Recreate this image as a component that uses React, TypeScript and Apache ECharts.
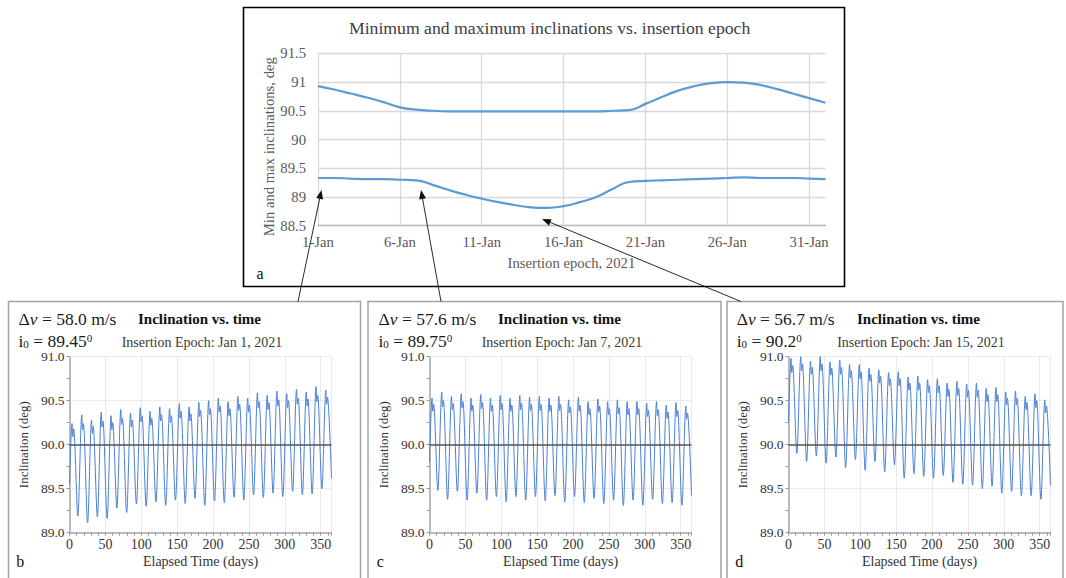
import React, { useEffect, useRef } from "react";
import * as echarts from "echarts";

const SERIF = '"Liberation Serif", "Times New Roman", serif';

// ---------- Panel a: min / max inclination vs insertion epoch ----------
const epochLabels = [
  "1-Jan", "2-Jan", "3-Jan", "4-Jan", "5-Jan", "6-Jan", "7-Jan", "8-Jan",
  "9-Jan", "10-Jan", "11-Jan", "12-Jan", "13-Jan", "14-Jan", "15-Jan", "16-Jan",
  "17-Jan", "18-Jan", "19-Jan", "20-Jan", "21-Jan", "22-Jan", "23-Jan", "24-Jan",
  "25-Jan", "26-Jan", "27-Jan", "28-Jan", "29-Jan", "30-Jan", "31-Jan", "1-Feb",
];
const maxIncl = [
  90.93, 90.87, 90.8, 90.73, 90.65, 90.56, 90.52, 90.5, 90.49, 90.49, 90.49,
  90.49, 90.49, 90.49, 90.49, 90.49, 90.49, 90.49, 90.5, 90.51, 90.62, 90.74,
  90.85, 90.93, 90.98, 91.0, 90.99, 90.95, 90.88, 90.8, 90.72, 90.64,
];
const minIncl = [
  89.33, 89.33, 89.32, 89.31, 89.31, 89.3, 89.29, 89.21, 89.12, 89.04, 88.97,
  88.91, 88.86, 88.82, 88.81, 88.84, 88.91, 89.0, 89.14, 89.26, 89.28, 89.29,
  89.3, 89.31, 89.32, 89.33, 89.34, 89.33, 89.33, 89.33, 89.32, 89.31,
];
const inclTicksTop = [88.5, 89, 89.5, 90, 90.5, 91, 91.5];

// ---------- Panels b, c, d: inclination vs elapsed time ----------
const elapsedTicks = [0, 50, 100, 150, 200, 250, 300, 350];
const inclTicksBottom = [89.0, 89.5, 90.0, 90.5, 91.0];

// panel b (Jan 1)
const startB = 89.55;
const endB = 89.62;
const peaksB = [90.24, 90.34, 90.28, 90.37, 90.33, 90.4, 90.36, 90.42, 90.38, 90.43, 90.41, 90.47, 90.43, 90.48, 90.5, 90.53, 90.49, 90.55, 90.53, 90.59, 90.56, 90.61, 90.58, 90.63, 90.6, 90.66, 90.62];
const notchB = [90.09, 90.17, 90.13, 90.2, 90.17, 90.23, 90.2, 90.26, 90.22, 90.27, 90.25, 90.3, 90.27, 90.32, 90.34, 90.37, 90.33, 90.39, 90.37, 90.42, 90.4, 90.44, 90.42, 90.46, 90.44, 90.49, 90.46];
const peak2B = [90.18, 90.24, 90.21, 90.27, 90.25, 90.3, 90.28, 90.33, 90.3, 90.34, 90.33, 90.38, 90.35, 90.39, 90.41, 90.44, 90.41, 90.46, 90.45, 90.49, 90.48, 90.51, 90.5, 90.53, 90.52, 90.56, 90.54];
const troughsB = [89.19, 89.11, 89.18, 89.16, 89.28, 89.23, 89.33, 89.3, 89.35, 89.31, 89.37, 89.33, 89.39, 89.31, 89.36, 89.34, 89.4, 89.37, 89.43, 89.4, 89.45, 89.41, 89.47, 89.43, 89.44, 89.5];

// panel c (Jan 7)
const startC = 89.8;
const endC = 89.42;
const peaksC = [90.53, 90.6, 90.55, 90.58, 90.53, 90.57, 90.53, 90.56, 90.53, 90.56, 90.54, 90.55, 90.53, 90.55, 90.51, 90.54, 90.49, 90.52, 90.49, 90.51, 90.49, 90.49, 90.47, 90.49, 90.45, 90.48, 90.44];
const notchC = [90.38, 90.43, 90.4, 90.42, 90.38, 90.41, 90.38, 90.4, 90.38, 90.4, 90.39, 90.39, 90.38, 90.39, 90.36, 90.38, 90.34, 90.37, 90.34, 90.35, 90.34, 90.34, 90.32, 90.33, 90.3, 90.32, 90.29];
const peak2C = [90.46, 90.5, 90.47, 90.49, 90.45, 90.48, 90.45, 90.47, 90.45, 90.47, 90.46, 90.46, 90.45, 90.46, 90.43, 90.45, 90.41, 90.44, 90.41, 90.42, 90.41, 90.41, 90.39, 90.4, 90.37, 90.39, 90.36];
const troughsC = [89.48, 89.38, 89.47, 89.37, 89.45, 89.37, 89.41, 89.35, 89.41, 89.37, 89.41, 89.36, 89.42, 89.35, 89.41, 89.34, 89.39, 89.33, 89.37, 89.31, 89.37, 89.31, 89.38, 89.33, 89.34, 89.31];

// panel d (Jan 15)
const startD = 90.26;
const endD = 89.54;
const peaksD = [90.98, 91.0, 90.95, 91.0, 90.94, 90.96, 90.91, 90.91, 90.87, 90.85, 90.82, 90.83, 90.77, 90.78, 90.74, 90.75, 90.7, 90.72, 90.69, 90.7, 90.64, 90.65, 90.6, 90.61, 90.55, 90.58, 90.51];
const notchD = [90.82, 90.84, 90.8, 90.84, 90.79, 90.8, 90.76, 90.75, 90.72, 90.7, 90.67, 90.67, 90.62, 90.62, 90.59, 90.59, 90.55, 90.56, 90.54, 90.54, 90.49, 90.49, 90.45, 90.45, 90.4, 90.42, 90.36];
const peak2D = [90.9, 90.92, 90.88, 90.92, 90.87, 90.88, 90.84, 90.83, 90.8, 90.78, 90.75, 90.75, 90.7, 90.7, 90.67, 90.67, 90.63, 90.64, 90.62, 90.62, 90.57, 90.57, 90.53, 90.53, 90.48, 90.5, 90.44];
const troughsD = [89.9, 89.81, 89.87, 89.79, 89.86, 89.74, 89.83, 89.71, 89.81, 89.69, 89.77, 89.62, 89.67, 89.64, 89.62, 89.65, 89.57, 89.55, 89.54, 89.5, 89.53, 89.45, 89.47, 89.42, 89.42, 89.38];

// cycle timing (half lunar month)
const CYCLE_DAYS = 13.6;
const FIRST_PEAK_DAY = 3.5;
const NOTCH_OFFSET = 1.1;
const PEAK2_OFFSET = 2.3;
const TROUGH_OFFSET = 8.1;
const LAST_DAY = 365;

function buildTrack(start: number, peaks: number[], notches: number[], peaks2: number[], troughs: number[], end: number) {
  const pts: number[][] = [[0, start]];
  peaks.forEach((p, k) => {
    const t = FIRST_PEAK_DAY + k * CYCLE_DAYS;
    pts.push([t, p]);
    pts.push([t + NOTCH_OFFSET, notches[k]]);
    pts.push([t + PEAK2_OFFSET, peaks2[k]]);
    if (k < troughs.length) pts.push([t + TROUGH_OFFSET, troughs[k]]);
  });
  pts.push([LAST_DAY, end]);
  return pts;
}

const panels = [
  { letter: "b", dv: "58.0", i0: "89.45", epoch: "Jan 1, 2021", gridLeft: 69.5, textLeft: 18.5, box: [8.5, 352], track: buildTrack(startB, peaksB, notchB, peak2B, troughsB, endB) },
  { letter: "c", dv: "57.6", i0: "89.75", epoch: "Jan 7, 2021", gridLeft: 429.5, textLeft: 378.5, box: [368, 353], track: buildTrack(startC, peaksC, notchC, peak2C, troughsC, endC) },
  { letter: "d", dv: "56.7", i0: "90.2", epoch: "Jan 15, 2021", gridLeft: 788.5, textLeft: 736.7, box: [727, 336], track: buildTrack(startD, peaksD, notchD, peak2D, troughsD, endD) },
];

const PLOT_W = 262;
const PLOT_TOP = 356.7;
const PLOT_H = 176;

function arrow(fx: number, fy: number, tx: number, ty: number) {
  const dx = tx - fx;
  const dy = ty - fy;
  const len = Math.sqrt(dx * dx + dy * dy);
  const ux = dx / len;
  const uy = dy / len;
  const hl = 9;
  const hw = 3.5;
  const bx = tx - ux * hl;
  const by = ty - uy * hl;
  return [
    { type: "line", z: 100, shape: { x1: fx, y1: fy, x2: bx, y2: by }, style: { stroke: "#111", lineWidth: 0.9 } },
    {
      type: "polygon",
      z: 100,
      shape: { points: [[tx, ty], [bx - uy * hw, by + ux * hw], [bx + uy * hw, by - ux * hw]] },
      style: { fill: "#111" },
    },
  ];
}

function txt(x: number, y: number, text: string, size: number, extra: any = {}, rotation = 0) {
  return {
    type: "text",
    x,
    y,
    rotation,
    z: 50,
    style: {
      text,
      fontFamily: SERIF,
      fontSize: size,
      fill: "#222",
      align: "left",
      verticalAlign: "middle",
      ...extra,
    },
  };
}

function buildOption() {
  const grids: any[] = [{ left: 318, top: 53.3, width: 507.5, height: 172.4 }];
  const xAxes: any[] = [
    {
      type: "category",
      gridIndex: 0,
      data: epochLabels,
      boundaryGap: false,
      axisLine: { show: true, lineStyle: { color: "#bfbfbf", width: 1.3 } },
      axisTick: { show: false },
      axisLabel: { interval: 4, fontFamily: SERIF, fontSize: 14.7, color: "#595959", margin: 9 },
      splitLine: { show: true, interval: 4, lineStyle: { color: "#d9d9d9", width: 1.3 } },
    },
  ];
  const yAxes: any[] = [
    {
      type: "value",
      gridIndex: 0,
      min: inclTicksTop[0],
      max: inclTicksTop[inclTicksTop.length - 1],
      interval: 0.5,
      axisLine: { show: false },
      axisTick: { show: false },
      axisLabel: { fontFamily: SERIF, fontSize: 14.7, color: "#595959", margin: 12 },
      splitLine: { show: true, lineStyle: { color: "#d9d9d9", width: 1.3 } },
    },
  ];
  const series: any[] = [
    {
      type: "line",
      xAxisIndex: 0,
      yAxisIndex: 0,
      data: maxIncl,
      smooth: true,
      showSymbol: false,
      lineStyle: { color: "#5B9BD5", width: 2.2 },
    },
    {
      type: "line",
      xAxisIndex: 0,
      yAxisIndex: 0,
      data: minIncl,
      smooth: true,
      showSymbol: false,
      lineStyle: { color: "#5B9BD5", width: 2.2 },
    },
  ];

  const graphic: any[] = [
    { type: "rect", z: 1, shape: { x: 243.5, y: 7.5, width: 601, height: 279 }, style: { fill: "none", stroke: "#000", lineWidth: 1.6 } },
    txt(549.6, 27.7, "Minimum and maximum inclinations vs. insertion epoch", 17.7, { align: "center", fill: "#404040" }),
    txt(268.7, 146.7, "Min and max inclinations, deg", 14.7, { align: "center", fill: "#595959" }, Math.PI / 2),
    txt(571.4, 263, "Insertion epoch, 2021", 14.7, { align: "center", fill: "#595959" }),
    txt(256.5, 273.3, "a", 16, { fill: "#111" }),
  ];

  panels.forEach((p, i) => {
    const gi = i + 1;
    grids.push({ left: p.gridLeft, top: PLOT_TOP, width: PLOT_W, height: PLOT_H });
    xAxes.push({
      type: "value",
      gridIndex: gi,
      min: elapsedTicks[0],
      max: LAST_DAY,
      interval: 50,
      axisLine: { show: true, lineStyle: { color: "#a8a8a8", width: 1.5 } },
      axisTick: { show: true, length: 3, lineStyle: { color: "#999" } },
      minorTick: { show: true, splitNumber: 5, length: 3, lineStyle: { color: "#999" } },
      axisLabel: {
        fontFamily: SERIF,
        fontSize: 14,
        color: "#333",
        margin: 5,
        formatter: (v: number) => (elapsedTicks.includes(v) ? String(v) : ""),
      },
      splitLine: { show: true, lineStyle: { color: "#d6d6d6", type: "dotted", width: 1 } },
    });
    yAxes.push({
      type: "value",
      gridIndex: gi,
      min: inclTicksBottom[0],
      max: inclTicksBottom[inclTicksBottom.length - 1],
      interval: 0.5,
      axisLine: { show: true, lineStyle: { color: "#a8a8a8", width: 1.5 } },
      axisTick: { show: true, length: 3, lineStyle: { color: "#999" } },
      minorTick: { show: true, splitNumber: 2, length: 3, lineStyle: { color: "#999" } },
      axisLabel: {
        fontFamily: SERIF,
        fontSize: 13.5,
        color: "#333",
        margin: 5,
        formatter: (v: number) => v.toFixed(1),
      },
      splitLine: { show: true, lineStyle: { color: "#d6d6d6", type: "dotted", width: 1 } },
    });
    series.push({
      type: "line",
      xAxisIndex: gi,
      yAxisIndex: gi,
      data: p.track,
      showSymbol: false,
      smooth: 0.3,
      lineStyle: { color: "#4a7fd6", width: 1 },
      markLine: {
        silent: true,
        symbol: "none",
        label: { show: false },
        lineStyle: { color: "#555", width: 1.5, type: "solid" },
        data: [{ yAxis: 90 }],
      },
    });

    const cx = p.gridLeft + 131;
    graphic.push(
      { type: "rect", z: 1, shape: { x: p.box[0], y: 301.5, width: p.box[1], height: 300 }, style: { fill: "none", stroke: "#a3a3a3", lineWidth: 1.5 } },
      {
        type: "text",
        x: p.textLeft,
        y: 319,
        z: 50,
        style: {
          text: `{r|Δ}{i|v}{r| = ${p.dv} m/s}`,
          verticalAlign: "middle",
          align: "left",
          rich: {
            r: { fontFamily: SERIF, fontSize: 17.5, fill: "#1a1a1a", color: "#1a1a1a" },
            i: { fontFamily: SERIF, fontSize: 17.5, fontStyle: "italic", fill: "#1a1a1a", color: "#1a1a1a" },
          },
        },
      },
      {
        type: "text",
        x: p.textLeft,
        y: 341,
        z: 50,
        style: {
          text: `{r|i}{sub|0}{r| = ${p.i0}}{sup|0}`,
          verticalAlign: "middle",
          align: "left",
          rich: {
            r: { fontFamily: SERIF, fontSize: 17.5, lineHeight: 17, fill: "#1a1a1a", color: "#1a1a1a" },
            sub: { fontFamily: SERIF, fontSize: 11, lineHeight: 10, verticalAlign: "bottom", fill: "#1a1a1a", color: "#1a1a1a" },
            sup: { fontFamily: SERIF, fontSize: 11, lineHeight: 10, verticalAlign: "top", fill: "#1a1a1a", color: "#1a1a1a" },
          },
        },
      },
      txt(p.gridLeft + 130, 319, "Inclination vs. time", 15, { align: "center", fontWeight: "bold", fill: "#111" }),
      txt(p.gridLeft + 132.5, 342.3, `Insertion Epoch: ${p.epoch}`, 14, { align: "center", fill: "#3a3a3a" }),
      txt(p.gridLeft - 46, PLOT_TOP + PLOT_H / 2, "Inclination (deg)", 13, { align: "center", fill: "#333" }, Math.PI / 2),
      txt(cx, 561.7, "Elapsed Time (days)", 14, { align: "center", fill: "#333" }),
      txt(p.gridLeft - 49.3, 561.7, p.letter, 16, { align: "center", fill: "#111" })
    );
  });

  graphic.push(...arrow(298, 301.5, 321.5, 190));
  graphic.push(...arrow(441, 301.5, 421, 190));
  graphic.push(...arrow(741, 301.5, 542, 219));

  return {
    animation: false,
    backgroundColor: "#fff",
    grid: grids,
    xAxis: xAxes,
    yAxis: yAxes,
    series,
    graphic: { elements: graphic },
  };
}

export default function App() {
  const ref = useRef<HTMLDivElement>(null);
  useEffect(() => {
    if (!ref.current) return;
    const chart = echarts.init(ref.current, undefined, { renderer: "svg", width: 1066, height: 578 });
    chart.setOption(buildOption() as any);
    return () => chart.dispose();
  }, []);
  return (
    <div
      ref={ref}
      style={{ position: "absolute", left: 0, top: 0, width: 1066, height: 578, background: "#fff" }}
    />
  );
}
